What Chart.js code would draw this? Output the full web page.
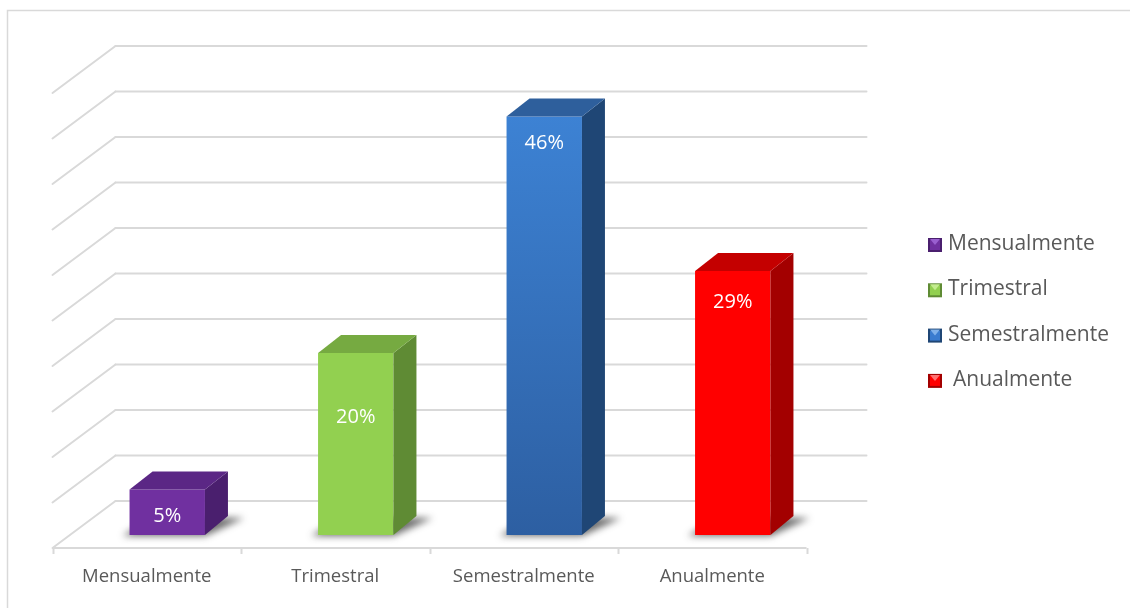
<!DOCTYPE html>
<html>
<head>
<meta charset="utf-8">
<script src="https://cdn.jsdelivr.net/npm/chart.js@4.4.1/dist/chart.umd.min.js"></script>
<style>
  html, body { margin: 0; padding: 0; background: #ffffff; }
  canvas { display: block; }
</style>
</head>
<body>
<canvas id="barChart" width="1130" height="608"></canvas>
<script>
// Periodicidad (porcentaje de respuestas)
const categories = ['Mensualmente', 'Trimestral', 'Semestralmente', 'Anualmente'];
const values = [5, 20, 46, 29];
const valueLabels = ['5%', '20%', '46%', '29%'];
const yMax = 50;
const yStep = 5;

// colores de cada cara de las barras
const frontColors = ['#7030a0', '#92d050', '#3a7bcf', '#ff0000'];
const topColors = ['#5b2785', '#76aa41', '#2e5f9c', '#c40000'];
const sideColors = ['#4a1f6e', '#5f8b34', '#1f4675', '#a30000'];
const lightColors = ['#9a5fd0', '#c3ec8e', '#7fb0ea', '#ff7070'];
const labelDrop = [27, 64, 27, 31];

const FONT = '"Open Sans", "DejaVu Sans", sans-serif';
const GRID = '#d9d9d9';
const TEXT = '#595959';

// desplazamientos del efecto 3D respecto al plano frontal de las barras
const backWall = { dx: 42.5, dy: -34 };
const frontFloor = { dx: -20.5, dy: 13 };
const barDepth = { dx: 23, dy: -18 };

function line(ctx, x1, y1, x2, y2) {
    ctx.beginPath();
    ctx.moveTo(x1, y1);
    ctx.lineTo(x2, y2);
    ctx.stroke();
}

function poly(ctx, pts, color) {
    ctx.beginPath();
    ctx.moveTo(pts[0][0], pts[0][1]);
    for (let i = 1; i < pts.length; i++) ctx.lineTo(pts[i][0], pts[i][1]);
    ctx.closePath();
    ctx.fillStyle = color;
    ctx.fill();
}

const chart3d = {
    id: 'chart3d',
    beforeDraw(chart) {
        const ctx = chart.ctx;
        ctx.save();
        ctx.strokeStyle = GRID;
        ctx.lineWidth = 1.5;
        ctx.strokeRect(7.5, 10.5, 1140, 620);
        ctx.restore();
    },
    beforeDatasetsDraw(chart) {
        const ctx = chart.ctx;
        const area = chart.chartArea;
        const ys = chart.scales.y;
        const backL = area.left + backWall.dx;
        const backR = area.right + backWall.dx - 3;
        const frontL = area.left + frontFloor.dx;
        const frontR = area.right + frontFloor.dx;
        const wallDx = frontFloor.dx - backWall.dx;
        const wallDy = frontFloor.dy - backWall.dy;

        ctx.save();
        ctx.strokeStyle = GRID;
        ctx.lineWidth = 2;
        ctx.lineCap = 'round';
        // pared del fondo y pared izquierda
        ys.ticks.forEach(t => {
            const yb = ys.getPixelForValue(t.value) + backWall.dy;
            line(ctx, backL, yb, backR, yb);
            line(ctx, backL, yb, backL + wallDx, yb + wallDy);
        });
        // borde frontal del piso con marcas de categoria
        const yf = ys.getPixelForValue(0) + frontFloor.dy;
        ctx.lineCap = 'butt';
        line(ctx, frontL, yf, frontR, yf);
        const step = (frontR - frontL) / categories.length;
        for (let i = 0; i <= categories.length; i++) {
            const x = Math.round(frontL + i * step) + 0.5;
            line(ctx, x, yf, x, yf + 6);
        }

        // sombras bajo las barras
        const meta = chart.getDatasetMeta(0);
        meta.data.forEach(bar => {
            const p = bar.getProps(['x', 'y', 'base', 'width'], true);
            const L = p.x - p.width / 2, R = p.x + p.width / 2, B = p.base;
            ctx.save();
            ctx.filter = 'blur(3.5px)';
            poly(ctx, [[L - 7, B + 1], [R, B + 1], [R + barDepth.dx + 16, B + barDepth.dy + 1], [L + barDepth.dx, B + barDepth.dy]], 'rgba(30,30,30,0.65)');
            ctx.restore();
        });
        ctx.restore();
    },
    afterDatasetsDraw(chart) {
        const ctx = chart.ctx;
        const meta = chart.getDatasetMeta(0);
        ctx.save();
        meta.data.forEach((bar, i) => {
            const p = bar.getProps(['x', 'y', 'base', 'width'], true);
            const L = p.x - p.width / 2, R = p.x + p.width / 2, T = p.y, B = p.base;
            const dx = barDepth.dx, dy = barDepth.dy;
            poly(ctx, [[R, T], [R + dx, T + dy], [R + dx, B + dy - 1], [R, B]], sideColors[i]);
            poly(ctx, [[L, T], [L + dx, T + dy], [R + dx, T + dy], [R, T]], topColors[i]);

            ctx.fillStyle = '#ffffff';
            ctx.font = '20px ' + FONT;
            ctx.textAlign = 'center';
            ctx.textBaseline = 'middle';
            ctx.fillText(valueLabels[i], p.x, T + labelDrop[i]);
        });
        ctx.restore();
    },
    afterDraw(chart) {
        const ctx = chart.ctx;
        const xs = chart.scales.x;
        const ys = chart.scales.y;
        const yf = ys.getPixelForValue(0) + frontFloor.dy;
        ctx.save();
        ctx.fillStyle = TEXT;
        ctx.textBaseline = 'middle';

        // etiquetas de categoria
        ctx.font = '18.5px ' + FONT;
        ctx.textAlign = 'center';
        categories.forEach((c, i) => {
            ctx.fillText(c, xs.getPixelForValue(i) + frontFloor.dx, yf + 29);
        });

        // leyenda con icono biselado
        ctx.font = '21px ' + FONT;
        ctx.textAlign = 'left';
        categories.forEach((c, i) => {
            const cy = 244 + i * 45.3;
            const x = 928, s = 14, y = cy - s / 2 + 1;
            poly(ctx, [[x, y], [x + s, y], [x + s, y + s], [x, y + s]], sideColors[i]);
            poly(ctx, [[x + 2, y + 2], [x + s - 2, y + 2], [x + s - 2, y + s - 2], [x + 2, y + s - 2]], frontColors[i]);
            poly(ctx, [[x + 2, y + 1], [x + s - 2, y + 1], [x + s / 2, y + s / 2]], lightColors[i]);
            ctx.fillStyle = TEXT;
            ctx.fillText(c, i === 3 ? 953 : 948, cy);
        });
        ctx.restore();
    }
};

const ctxBar = document.getElementById('barChart').getContext('2d');
new Chart(ctxBar, {
    type: 'bar',
    data: {
        labels: categories,
        datasets: [{
            label: 'Periodicidad',
            data: values,
            backgroundColor: (context) => {
                const i = context.dataIndex;
                const area = context.chart.chartArea;
                if (i === 2 && area) {
                    const g = context.chart.ctx.createLinearGradient(0, area.top, 0, area.bottom);
                    g.addColorStop(0, '#3e85d8');
                    g.addColorStop(1, '#2d5fa2');
                    return g;
                }
                return frontColors[i];
            },
            borderWidth: 0,
            barPercentage: 0.4,
            categoryPercentage: 1.0
        }]
    },
    options: {
        responsive: false,
        animation: false,
        layout: {
            padding: { left: 73, right: 303, top: 80, bottom: 73 }
        },
        scales: {
            x: { display: false },
            y: {
                display: false,
                min: 0,
                max: yMax,
                ticks: { stepSize: yStep }
            }
        },
        plugins: {
            legend: { display: false },
            tooltip: { enabled: false }
        }
    },
    plugins: [chart3d]
});
</script>
</body>
</html>
